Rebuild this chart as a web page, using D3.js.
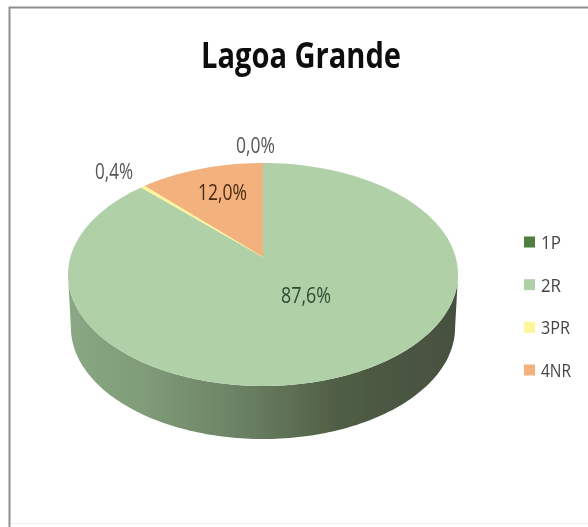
<!DOCTYPE html>
<html><head><meta charset="utf-8">
<script src="https://cdn.jsdelivr.net/npm/d3@7"></script>
<style>html,body{margin:0;padding:0;background:#fff}svg{display:block}
text{font-family:"Open Sans","Noto Sans",sans-serif}</style>
</head><body>
<script>
const categories = ["1P","2R","3PR","4NR"];
const values = [0.0,87.6,0.4,12.0];
const valueLabels = ["0,0%","87,6%","0,4%","12,0%"];
const colors = ["#4f7f3f","#b0d0a8","#fdf59a","#f3b17e"];
const titleText = "Lagoa Grande";

const W=588,H=527;
const svg=d3.select("body").append("svg").attr("width",W).attr("height",H);
const defs=svg.append("defs");
defs.append("filter").attr("id","soft").attr("x","-5%").attr("y","-5%").attr("width","110%").attr("height","110%")
  .append("feGaussianBlur").attr("stdDeviation",0.7);
const grad=defs.append("linearGradient").attr("id","wall").attr("gradientUnits","userSpaceOnUse")
  .attr("x1",68).attr("x2",458).attr("y1",0).attr("y2",0);
[[0,"#8aa884"],[0.2,"#7f9b78"],[0.45,"#6a8063"],[0.7,"#4f5d44"],[1,"#465040"]].forEach(s=>
  grad.append("stop").attr("offset",s[0]).attr("stop-color",s[1]));

const g=svg.append("g").attr("filter","url(#soft)");
g.append("rect").attr("x",9.5).attr("y",7.5).attr("width",W+20).attr("height",H+20)
  .attr("fill","#fff").attr("stroke","#8f8f8f").attr("stroke-width",2);
g.append("line").attr("x1",11).attr("x2",W).attr("y1",523.5).attr("y2",523.5)
  .attr("stroke","#eeeeee").attr("stroke-width",1);

// perspective projection of the pie's unit circle
const cx=263, cy=257, B=192.6, A=108.75, k=-0.157, depth=53;
const project=a=>{
  const x=Math.sin(a), y=-Math.cos(a), w=1+k*y;
  return [cx+B*x/w, cy+A*y/w];
};
const arcPoints=(a0,a1)=>{
  const n=Math.max(2,Math.ceil(Math.abs(a1-a0)/0.02));
  return d3.range(n+1).map(i=>project(a0+(a1-a0)*i/n));
};
const line=d3.line();

const pie=d3.pie().sort(null).value(d=>d)(values);

// side wall: visible front half, left to right
const aL=d3.range(0,2*Math.PI,0.005);
const right=d3.least(aL,a=>-project(a)[0]);
const left=d3.least(aL,a=>project(a)[0]);
const front=arcPoints(right,left);
const wallPts=front.concat(front.slice().reverse().map(p=>[cx+(p[0]-cx)*0.985,p[1]+depth]));
g.append("path").attr("d",line(wallPts)+"Z").attr("fill","url(#wall)");

// top face
pie.forEach((d,i)=>{
  if(d.endAngle-d.startAngle<1e-6) return;
  const pts=[[cx,cy]].concat(arcPoints(d.startAngle,d.endAngle));
  g.append("path").attr("d",line(pts)+"Z").attr("fill",colors[i])
    .attr("stroke",i===2?colors[i]:"none").attr("stroke-width",i===2?0.5:0);
});

// title
g.append("text").attr("x",301).attr("y",68).attr("text-anchor","middle")
  .attr("font-size",35).attr("font-weight","bold").attr("fill","#111")
  .attr("textLength",200).attr("lengthAdjust","spacingAndGlyphs").text(titleText);

// data labels
const labelPos=[[255.5,153],[306,303],[114,179],[222.5,200]];
const labelLen=[39,50,38,49];
const labelFill=["#555","#2e4a30","#555","#4a2a12"];
valueLabels.forEach((t,i)=>{
  g.append("text").attr("x",labelPos[i][0]).attr("y",labelPos[i][1]).attr("text-anchor","middle")
   .attr("font-size",21).attr("fill",labelFill[i])
   .attr("textLength",labelLen[i]).attr("lengthAdjust","spacingAndGlyphs").text(t);
});

// legend
const legY=d3.scalePoint().domain(categories).range([242,370]);
const legLen=[20,20,29,30];
categories.forEach((c,i)=>{
  const y=legY(c);
  g.append("rect").attr("x",524).attr("y",y-5.5).attr("width",11).attr("height",11).attr("fill",colors[i]);
  g.append("text").attr("x",541).attr("y",y+7).attr("font-size",18).attr("fill","#444")
   .attr("textLength",legLen[i]).attr("lengthAdjust","spacingAndGlyphs").text(c);
});
</script>
</body></html>
